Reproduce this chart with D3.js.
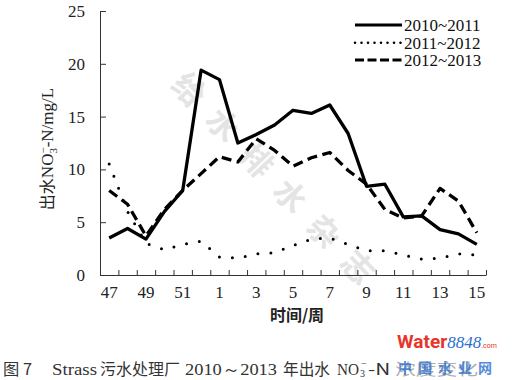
<!DOCTYPE html>
<html><head><meta charset="utf-8">
<script src="https://cdn.jsdelivr.net/npm/d3@7/dist/d3.min.js"></script>
<style>
html,body{margin:0;padding:0;background:#fff;}
svg{display:block;}
.serif{font-family:"Liberation Serif","DejaVu Serif",serif;}
</style></head>
<body>
<script>
// ---- data ----
const weeks = ["47","48","49","50","51","52","1","2","3","4","5","6","7","8","9","10","11","12","13","14","15"];
const shownLabels = ["47","49","51","1","3","5","7","9","11","13","15"];
const yTicks = [0,5,10,15,20,25];
const seriesNames = ["2010~2011","2011~2012","2012~2013"];
const s2010_2011 = [3.5,4.4,3.4,6.0,8.0,19.4,18.5,12.5,13.3,14.2,15.6,15.3,16.1,13.4,8.4,8.6,5.5,5.6,4.3,3.9,2.9];
const s2011_2012 = [10.5,6.0,3.0,2.4,2.9,3.2,1.7,1.6,2.0,2.1,2.8,3.4,3.5,2.9,2.3,2.3,1.9,1.5,1.6,2.0,1.9];
const s2012_2013 = [8.0,6.7,3.7,6.2,8.0,9.6,11.2,10.7,12.9,11.8,10.3,11.1,11.6,9.9,8.6,6.2,5.4,5.6,8.2,7.0,4.0];

const W = 531, H = 380;
const svg = d3.select("body").append("svg").attr("width", W).attr("height", H);

// watermark
svg.append("text")
  .attr("transform","translate(176,80) rotate(46.5)")
  .attr("font-family","Noto Sans CJK SC").attr("font-weight","bold")
  .attr("font-size",32).attr("letter-spacing",17)
  .attr("fill","#e4e4e4").attr("dominant-baseline","middle")
  .text("给水排水杂志");

const x0 = 100, x1 = 486, yTop = 11, yBot = 275;
const x = d3.scaleBand().domain(weeks).range([x0, x1]).paddingInner(0).paddingOuter(0);
const xb = d3.scaleLinear().domain([0, weeks.length]).range([x0, x1]);
const y = d3.scaleLinear().domain([0, 25]).range([yBot, yTop]);
const cx = d => x(d) + x.bandwidth()/2;

// y axis
const ya = svg.append("g").attr("transform",`translate(${x0},0)`)
  .call(d3.axisLeft(y).tickValues(yTicks).tickSize(-6).tickSizeOuter(0).tickPadding(15));
ya.selectAll("text").attr("class","serif").attr("font-size",17).attr("fill","#222");

// x axis labels
const xa = svg.append("g").attr("transform",`translate(0,${yBot})`)
  .call(d3.axisBottom(x).tickSize(0).tickPadding(11).tickFormat(d => shownLabels.includes(d) ? d : ""));
xa.select(".domain").remove();
xa.selectAll("text").attr("class","serif").attr("font-size",17).attr("fill","#222");
// x boundary ticks
svg.append("g").attr("transform",`translate(0,${yBot})`)
  .call(d3.axisBottom(xb).tickValues(d3.range(weeks.length+1)).tickSize(-5).tickSizeOuter(0).tickFormat(""));
svg.selectAll(".domain").attr("stroke","#333");
svg.selectAll(".tick line").attr("stroke","#333");

// lines
const line = d3.line().x((d,i) => cx(weeks[i])).y(d => y(d));
const styles = [
  {data:s2010_2011, w:3.3, dash:null, cap:"butt"},
  {data:s2011_2012, w:3, dash:"0,13", cap:"round"},
  {data:s2012_2013, w:3.3, dash:"10,5.5", cap:"butt"}
];
styles.forEach(s => {
  svg.append("path").datum(s.data).attr("d", line)
    .attr("fill","none").attr("stroke","#000").attr("stroke-width",s.w)
    .attr("stroke-linejoin","round").attr("stroke-linecap",s.cap)
    .attr("stroke-dasharray",s.dash);
});

// legend
const legY = [25, 42.7, 60];
const legDash = [null, "0,6.5", "9,3.5"];
const legCap = ["butt","round","butt"];
seriesNames.forEach((n,i) => {
  svg.append("line").attr("x1",355).attr("x2",402).attr("y1",legY[i]).attr("y2",legY[i])
    .attr("stroke","#000").attr("stroke-width", i===1 ? 2.6 : 2.8)
    .attr("stroke-dasharray",legDash[i]).attr("stroke-linecap",legCap[i]);
  svg.append("text").attr("class","serif").attr("x",404).attr("y",legY[i]).attr("dy","0.35em")
    .attr("font-size",17).attr("fill","#111").text(n);
});

// axis titles
svg.append("text").attr("x",297).attr("y",315).attr("dy","0.35em").attr("text-anchor","middle")
  .attr("font-family","Noto Sans CJK SC").attr("font-weight","bold").attr("font-size",16).attr("fill","#222")
  .text("时间/周");

const yt = svg.append("text").attr("transform","translate(47,149) rotate(-90)")
  .attr("text-anchor","middle").attr("dy","0.35em").attr("font-size",17).attr("fill","#222");
yt.append("tspan").attr("font-family","Noto Sans CJK SC").attr("font-size",16).text("出水");
yt.append("tspan").attr("class","serif").text("NO");
yt.append("tspan").attr("class","serif").attr("font-size",11).attr("dy",4).text("3");
yt.append("tspan").attr("class","serif").attr("font-size",11).attr("dx",-5.5).attr("dy",-10).text("−");
yt.append("tspan").attr("class","serif").attr("dy",6).text("-N/mg/L");

// caption
const capY = 369;
const capParts = [
  {t:"图 7", x:3, w:29, f:"Noto Sans CJK SC"},
  {t:"Strass", x:52, w:45, f:"Liberation Serif"},
  {t:"污水处理厂", x:100, w:80, f:"Noto Sans CJK SC"},
  {t:"2010～2013", x:185, w:92, f:"Liberation Serif"},
  {t:"年出水", x:283, w:47, f:"Noto Sans CJK SC"},
  {t:"NO", x:337, w:22, f:"Liberation Serif"},
  {t:"-N 浓度变化", x:368, w:110, f:"Noto Sans CJK SC"}
];
capParts.forEach(p => {
  svg.append("text").attr("x",p.x).attr("y",capY).attr("dy","0.35em")
    .attr("font-family",p.f).attr("font-size",16).attr("fill","#333")
    .attr("textLength",p.w).attr("lengthAdjust","spacingAndGlyphs").text(p.t);
});
svg.append("text").attr("x",360).attr("y",capY+4).attr("dy","0.35em").attr("class","serif")
  .attr("font-size",10).attr("fill","#333").text("3");
svg.append("text").attr("x",361).attr("y",capY-6).attr("dy","0.35em").attr("class","serif")
  .attr("font-size",10).attr("fill","#333").text("−");

// logo overlay
svg.append("rect").attr("x",390).attr("y",356).attr("width",141).attr("height",22).attr("fill","#fff").attr("opacity",0.6);
const logo = svg.append("text").attr("x",397).attr("y",348);
logo.append("tspan").attr("font-family","Roboto").attr("font-weight","bold").attr("font-size",19).attr("fill","#e8342a").text("Water");
logo.append("tspan").attr("font-family","Liberation Serif").attr("font-style","italic").attr("font-size",17).attr("fill","#2a6fd1").text("8848");
logo.append("tspan").attr("font-family","Roboto").attr("font-size",7).attr("fill","#e8342a").text(".com");
svg.append("text").attr("x",398).attr("y",368).attr("dy","0.35em")
  .attr("font-family","Noto Sans CJK SC").attr("font-weight","bold").attr("font-size",14)
  .attr("letter-spacing",6).attr("fill","#2a6fd1").attr("opacity",0.8).text("中国水业网");
</script>
</body></html>
